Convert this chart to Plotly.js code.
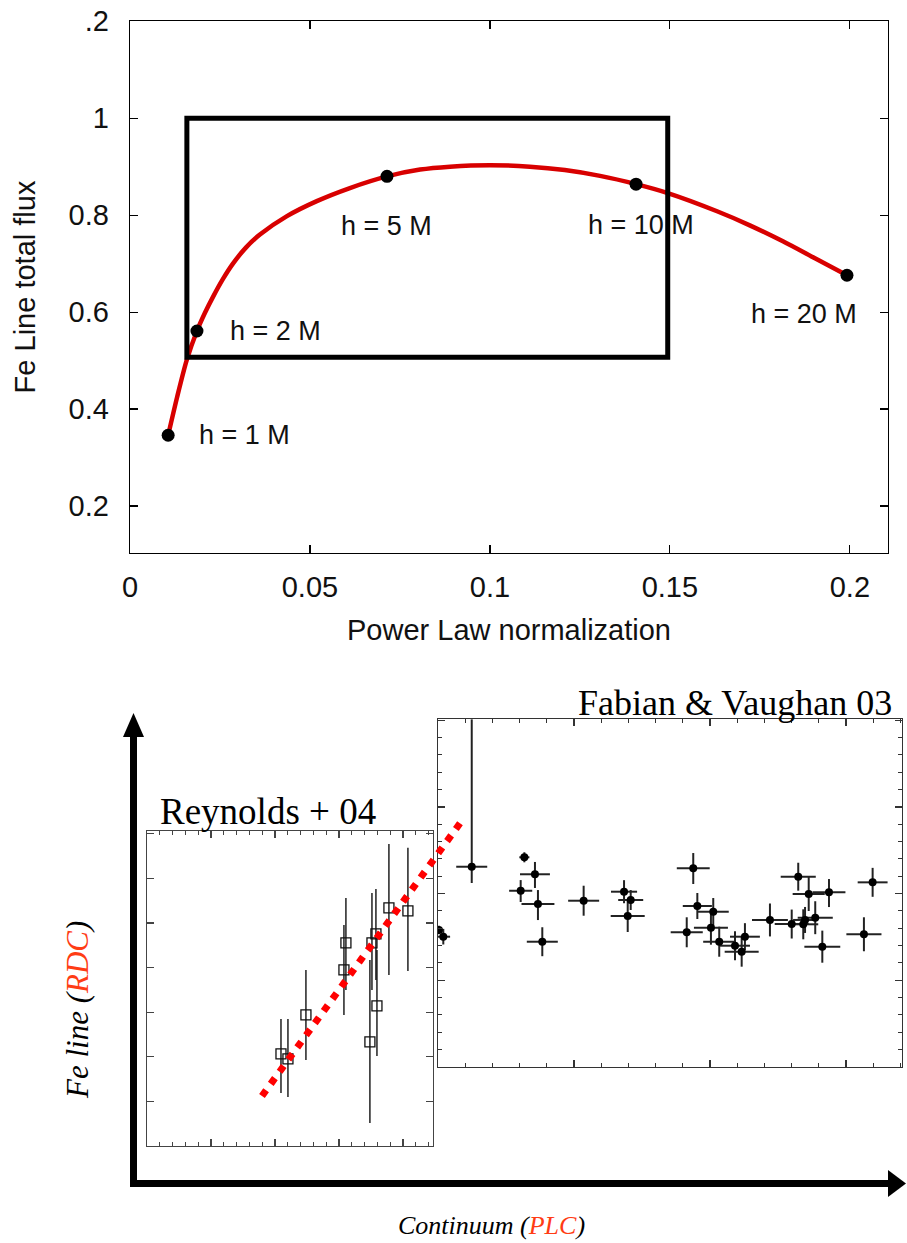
<!DOCTYPE html>
<html><head><meta charset="utf-8">
<script src="https://cdn.plot.ly/plotly-3.0.1.min.js"></script>
<style>html,body{margin:0;padding:0;background:#fff}#chart{width:907px;height:1243px}</style>
</head><body><div id="chart"></div>
<script>
// ---------- Top panel: Fe line flux vs power-law normalization ----------
const curveX = [0.0106, 0.0131, 0.0158, 0.0186, 0.0208, 0.0231, 0.0258, 0.0286, 0.0322, 0.0361, 0.0436, 0.0519, 0.0611, 0.0714,
                0.0806, 0.0889, 0.1000, 0.1111, 0.1208, 0.1306, 0.1406, 0.1492, 0.1631, 0.1722, 0.1814, 0.1903, 0.1992];
const curveY = [0.346, 0.425, 0.502, 0.561, 0.598, 0.632, 0.668, 0.700, 0.733, 0.760, 0.798, 0.829, 0.856, 0.880,
                0.894, 0.900, 0.903, 0.900, 0.893, 0.881, 0.864, 0.846, 0.808, 0.779, 0.746, 0.711, 0.676];
const heightX = [0.0106, 0.0186, 0.0714, 0.1406, 0.1992];
const heightY = [0.346, 0.561, 0.880, 0.864, 0.676];
const heightLabels = ['h = 1 M', 'h = 2 M', 'h = 5 M', 'h = 10 M', 'h = 20 M'];
const topXTicks = [0, 0.05, 0.1, 0.15, 0.2];
const topXTickText = ['0', '0.05', '0.1', '0.15', '0.2'];
const topYTicks = [0.2, 0.4, 0.6, 0.8, 1, 1.2];
const topYTickText = ['0.2', '0.4', '0.6', '0.8', '1', '.2'];

// ---------- Bottom inset: Reynolds + 04 ----------
const reyX = [2.094, 2.203, 2.484, 3.109, 3.078, 3.516, 3.484, 3.578, 3.594, 3.781, 4.078];
const reyY = [2.063, 1.951, 2.937, 4.552, 3.946, 4.552, 2.332, 4.753, 3.139, 5.336, 5.269];
const reyErrUp = [0.785, 0.897, 1.009, 1.009, 1.009, 1.121, 1.839, 1.009, 1.256, 1.435, 1.413];
const reyErrDown = [0.874, 0.852, 1.009, 1.054, 1.009, 1.054, 1.816, 1.031, 1.121, 1.502, 1.345];
const fitX = [1.797, 4.953];
const fitY = [1.121, 7.354];

// ---------- Bottom inset: Fabian & Vaughan 03 ----------
const fabX = [0.248, 0.635, 0.713, 0.608, 0.735, 1.071, 1.368, 1.417, 1.395, 1.877, 1.907, 2.024, 2.649, 2.726, 2.875, 3.196,
              2.441, 2.601, 2.686, 2.699, 2.774, 2.826, 3.132, 1.829, 2.007, 2.068, 2.184, 2.233, 2.257, 0.767, 0.007, 0.039];
const fabY = [2.310, 2.419, 2.223, 2.033, 1.880, 1.918, 2.022, 1.926, 1.742, 2.292, 1.857, 1.791, 2.195, 1.995, 2.015, 2.130,
              1.696, 1.649, 1.646, 1.696, 1.722, 1.388, 1.531, 1.554, 1.607, 1.445, 1.399, 1.330, 1.503, 1.445, 1.580, 1.503];
const fabXErr = [0.114, 0.037, 0.110, 0.085, 0.121, 0.114, 0.096, 0.092, 0.125, 0.121, 0.107, 0.114, 0.129, 0.118, 0.121, 0.110,
                 0.132, 0.125, 0.110, 0.088, 0.129, 0.132, 0.129, 0.118, 0.125, 0.118, 0.110, 0.125, 0.110, 0.114, 0.02, 0.05];
const fabYErrUp = [1.70, 0.058, 0.142, 0.123, 0.161, 0.173, 0.133, 0.115, 0.185, 0.176, 0.150, 0.158, 0.161, 0.196, 0.153, 0.167,
                   0.190, 0.167, 0.173, 0.150, 0.190, 0.185, 0.196, 0.173, 0.196, 0.173, 0.167, 0.173, 0.156, 0.167, 0.05, 0.09];
const fabYErrDown = [0.188, 0.058, 0.158, 0.130, 0.185, 0.173, 0.133, 0.115, 0.185, 0.181, 0.150, 0.165, 0.161, 0.196, 0.170, 0.167,
                     0.190, 0.167, 0.173, 0.150, 0.190, 0.185, 0.196, 0.173, 0.196, 0.173, 0.167, 0.173, 0.156, 0.167, 0.05, 0.09];

// ---------- helpers (pixel -> paper) ----------
const W = 907, H = 1243;
const px = v => v / W;
const py = v => 1 - v / H;

// Reynolds panel geometry (pixels) and an invisible overlay with identical scale, larger extent, for the fit line
const REY = {x0: 147, x1: 433, y0: 1146, y1: 831, xr: 4.47, yr: 7.06};
const OVL = {x1: 480, y1: 800};
const ovlXMax = REY.xr * (OVL.x1 - REY.x0) / (REY.x1 - REY.x0);
const ovlYMax = REY.yr * (REY.y0 - OVL.y1) / (REY.y0 - REY.y1);

const labelOffsets = [
  {xanchor: 'left', xshift: 29, yshift: 0},
  {xanchor: 'left', xshift: 31, yshift: 0},
  {xanchor: 'center', xshift: 0, yshift: -50},
  {xanchor: 'center', xshift: 5, yshift: -41},
  {xanchor: 'center', xshift: -43, yshift: -39}
];

const traces = [
  {x: curveX, y: curveY, xaxis: 'x', yaxis: 'y', mode: 'lines', type: 'scatter',
   line: {color: '#d80000', width: 4.5, shape: 'spline', smoothing: 0.8}, hoverinfo: 'skip'},
  {x: heightX, y: heightY, xaxis: 'x', yaxis: 'y', mode: 'markers', type: 'scatter',
   marker: {color: '#000', size: 13}},
  {x: reyX, y: reyY, xaxis: 'x2', yaxis: 'y2', mode: 'markers', type: 'scatter',
   marker: {symbol: 'square-open', size: 10, color: '#111', line: {width: 1.3, color: '#111'}},
   error_y: {type: 'data', symmetric: false, array: reyErrUp, arrayminus: reyErrDown, width: 0, thickness: 1.4, color: '#111'}},
  {x: fabX, y: fabY, xaxis: 'x3', yaxis: 'y3', mode: 'markers', type: 'scatter',
   marker: {symbol: 'circle', size: 8, color: '#000'},
   error_x: {type: 'data', array: fabXErr, width: 0, thickness: 2, color: '#222'},
   error_y: {type: 'data', symmetric: false, array: fabYErrUp, arrayminus: fabYErrDown, width: 0, thickness: 2, color: '#222'}},
  {x: fitX, y: fitY, xaxis: 'x4', yaxis: 'y4', mode: 'lines', type: 'scatter',
   line: {color: '#ff0000', width: 7, dash: '7px,8px'}}
];

const topAxis = {
  showline: true, linecolor: '#000', linewidth: 1.3, mirror: 'ticks', ticks: 'inside', ticklen: 8,
  tickwidth: 1.2, tickcolor: '#000', showgrid: false, zeroline: false,
  tickfont: {size: 29, family: 'Liberation Sans, Arial, sans-serif', color: '#111'}
};
const insetAxis = (rng, dom, anchor, minorDtick, col) => Object.assign({
  domain: dom, range: rng, anchor: anchor, showline: true, linecolor: col, linewidth: 1.4,
  mirror: 'allticks', ticks: 'inside', ticklen: 7, tickwidth: 1.2, tickcolor: col, dtick: 1, tick0: 0,
  showticklabels: false, showgrid: false, zeroline: false
}, minorDtick ? {minor: {dtick: minorDtick, ticks: 'inside', ticklen: 4, tickwidth: 1, tickcolor: col, showgrid: false}} : {});
const hiddenAxis = (rng, dom, anchor) => ({domain: dom, range: rng, anchor: anchor, visible: false, showgrid: false, zeroline: false});

const layout = {
  width: W, height: H, margin: {l: 0, r: 0, t: 0, b: 0},
  paper_bgcolor: '#fff', plot_bgcolor: 'rgba(0,0,0,0)', showlegend: false,
  font: {family: 'Liberation Sans, Arial, sans-serif', color: '#000'},
  xaxis: Object.assign({}, topAxis, {
    domain: [px(130), px(888)], range: [0, 0.2106], anchor: 'y',
    tickvals: topXTicks, ticktext: topXTickText, ticklabelstandoff: 8,
    title: {text: 'Power Law normalization', font: {size: 29, color: '#111'}, standoff: 17}
  }),
  yaxis: Object.assign({}, topAxis, {
    domain: [py(553), py(21)], range: [0.1031, 1.2005], anchor: 'x',
    tickvals: topYTicks, ticktext: topYTickText, ticklabelstandoff: 14,
    title: {text: 'Fe Line total flux', font: {size: 29, color: '#111'}, standoff: 24}
  }),
  xaxis2: insetAxis([0, REY.xr], [px(REY.x0), px(REY.x1)], 'y2', 0.2, '#444'),
  yaxis2: insetAxis([0, REY.yr], [py(REY.y0), py(REY.y1)], 'x2', null, '#444'),
  xaxis3: insetAxis([0, 3.412], [px(438), px(902)], 'y3', 0.2, '#333'),
  yaxis3: insetAxis([0, 4.014], [py(1067), py(719)], 'x3', 0.2, '#333'),
  xaxis4: hiddenAxis([0, ovlXMax], [px(REY.x0), px(OVL.x1)], 'y4'),
  yaxis4: hiddenAxis([0, ovlYMax], [py(REY.y0), py(OVL.y1)], 'x4'),
  shapes: [
    {type: 'rect', xref: 'x', yref: 'y', x0: 0.0158, x1: 0.1494, y0: 0.507, y1: 1.0,
     line: {color: '#000', width: 5}, fillcolor: 'rgba(0,0,0,0)'},
    {type: 'line', xref: 'paper', yref: 'paper', x0: px(133.5), x1: px(133.5), y0: py(1187), y1: py(734),
     line: {color: '#000', width: 7}},
    {type: 'path', xref: 'paper', yref: 'paper', fillcolor: '#000', line: {width: 0},
     path: `M ${px(123)},${py(737)} L ${px(144)},${py(737)} L ${px(133.5)},${py(713)} Z`},
    {type: 'line', xref: 'paper', yref: 'paper', x0: px(130), x1: px(890), y0: py(1183.5), y1: py(1183.5),
     line: {color: '#000', width: 7}},
    {type: 'path', xref: 'paper', yref: 'paper', fillcolor: '#000', line: {width: 0},
     path: `M ${px(888)},${py(1170)} L ${px(888)},${py(1197)} L ${px(906)},${py(1183.5)} Z`}
  ],
  annotations: heightLabels.map((t, i) => Object.assign({
    text: t, x: heightX[i], y: heightY[i], xref: 'x', yref: 'y', showarrow: false,
    yanchor: 'middle', font: {size: 27, color: '#111'}
  }, labelOffsets[i])).concat([
    {text: 'Reynolds + 04', xref: 'paper', yref: 'paper', x: px(158), y: py(811), xanchor: 'left', yanchor: 'middle',
     showarrow: false, font: {family: 'Liberation Serif, Times New Roman, serif', size: 37, color: '#000'}},
    {text: 'Fabian &amp; Vaughan 03', xref: 'paper', yref: 'paper', x: px(894), y: py(703), xanchor: 'right', yanchor: 'middle',
     showarrow: false, font: {family: 'Liberation Serif, Times New Roman, serif', size: 36, color: '#000'}},
    {text: '<i>Fe line (<span style="color:#ff3c14">RDC</span>)</i>', xref: 'paper', yref: 'paper', x: px(77), y: py(1010),
     xanchor: 'center', yanchor: 'middle',
     textangle: -90, showarrow: false, font: {family: 'Liberation Serif, Times New Roman, serif', size: 31, color: '#000'}},
    {text: '<i>Continuum (<span style="color:#ff3c14">PLC</span>)</i>', xref: 'paper', yref: 'paper', x: px(491), y: py(1225),
     xanchor: 'center', yanchor: 'middle',
     showarrow: false, font: {family: 'Liberation Serif, Times New Roman, serif', size: 26, color: '#000'}}
  ])
};

Plotly.newPlot('chart', traces, layout, {displayModeBar: false, staticPlot: true});
</script>
</body></html>
